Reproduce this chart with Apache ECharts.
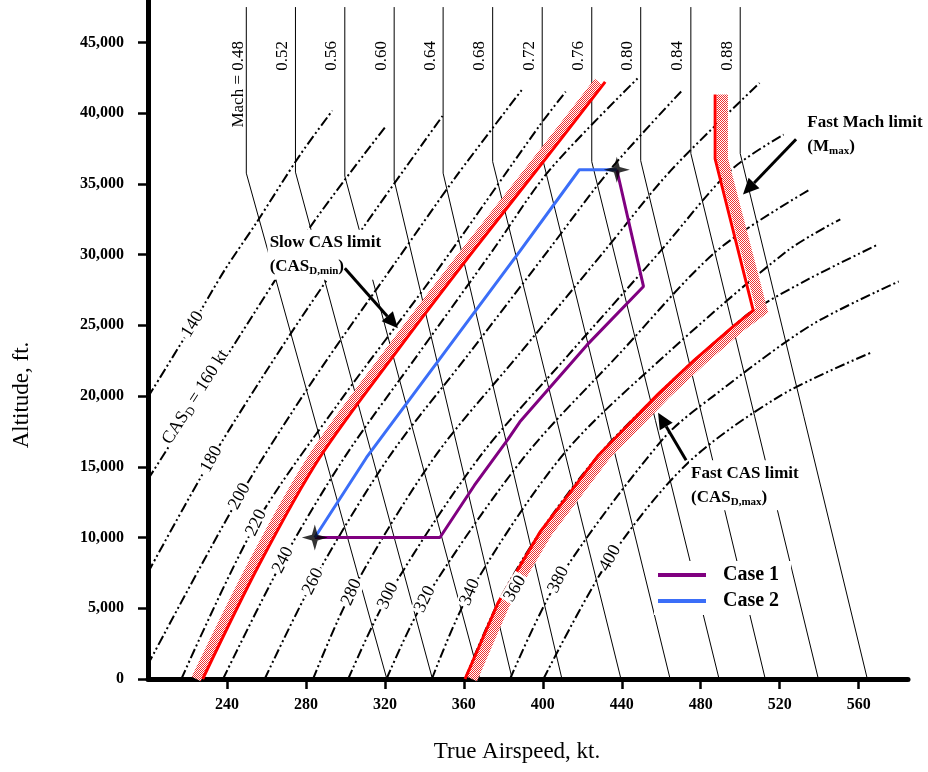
<!DOCTYPE html>
<html><head><meta charset="utf-8">
<script src="https://cdn.jsdelivr.net/npm/echarts@6/dist/echarts.min.js"></script>
<style>html,body{margin:0;padding:0;background:#fff}#c{width:928px;height:772px}</style>
</head><body><div id="c"></div>
<script>
// ---------- data (kt, ft) ----------
const xTickValues = [240, 280, 320, 360, 400, 440, 480, 520, 560];
const yTickValues = [0, 5000, 10000, 15000, 20000, 25000, 30000, 35000, 40000, 45000];

const machNumbers   = ['Mach = 0.48','0.52','0.56','0.60','0.64','0.68','0.72','0.76','0.80','0.84','0.88'];
const machTopKt     = [249.8, 274.7, 299.7, 324.7, 349.5, 374.6, 399.7, 424.8, 449.6, 475.0, 500.0];
const machBendAlt   = [35760, 35830, 35560, 35260, 35760, 36570, 36890, 36570, 36640, 37150, 37150];
const machSeaLevelKt= [321.0, 344.1, 368.1, 384.5, 409.7, 439.6, 464.5, 489.3, 512.7, 539.6, 564.4];
const machTopAlt = 47500;

const casValues = [140, 160, 180, 200, 220, 240, 260, 280, 300, 320, 340, 360, 380, 400];
const cas140 = [[200,19930],[222.6,25070],[238.8,28900],[254.9,32250],[276.9,37020],[293.4,40180]];
const cas160 = [[200,14120],[240.4,22930],[282.4,32000],[320,38990]];
const cas180 = [[200,7530],[232.1,15550],[271.6,24270],[310.7,32250],[349.2,39800]];
const cas200 = [[199.8,980],[246.4,12910],[284,21200],[325.9,29560],[356,35510],[389.3,41630]];
const cas220 = [[216.9,0],[254.9,11040],[297.1,19610],[344.3,28450],[398.6,39170],[411.6,41520]];
const cas240 = [[238,0],[268.4,8410],[299.5,15660],[336.7,22930],[374.4,30250],[403.2,35940],[448.4,42510]];
const cas260 = [[259.1,0],[283.6,6890],[321.9,15660],[362.2,22930],[402.5,30250],[433.7,35940],[470.4,41580]];
const cas280 = [[283.6,0],[303.1,6140],[345,15660],[387.8,22930],[431.2,30250],[464.8,35940],[509.8,42130]];
const cas300 = [[301.4,0],[321.6,5890],[367.8,15660],[413.1,22930],[459.6,30250],[495,35940],[522,38490]];
const cas320 = [[320.8,0],[340.3,5640],[390.4,15660],[438.4,22930],[488,30250],[534.6,34550]];
const cas340 = [[343.8,0],[363.1,6140],[410.4,15880],[462.4,22930],[523.7,30250],[550.7,32500]];
const cas360 = [[360.6,0],[377.3,5380],[398.6,10380],[428,15790],[457.9,20070],[476.2,22470],[496.5,24930],[506.6,26060],[535,28300],[569.3,30680]];
const cas380 = [[383.4,0],[407.9,7020],[460.9,16970],[486.4,20000],[535.8,25000],[580.3,28100]];
const cas400 = [[400.3,0],[434.1,8540],[473.1,15220],[520,20000],[565.9,23050]];
const casLines = [cas140,cas160,cas180,cas200,cas220,cas240,cas260,cas280,cas300,cas320,cas340,cas360,cas380,cas400];
const casLabelPos = [[222.6,25070],[224.1,19930],[232.1,15550],[246.4,12910],[254.9,11040],[268.4,8410],[283.6,6890],[303.1,6140],[321.6,5890],[340.3,5640],[363.1,6140],[386.0,6390],[407.9,7020],[434.1,8540]];

const slowLimit = [[227.7,0],[256.6,8160],[287,15660],[326.6,23270],[364.7,30250],[398.6,36270],[431.6,42210]];
const slowHatch = [[224.4,0],[253.3,8160],[283.7,15660],[323.3,23270],[361.4,30250],[395.3,36270],[428.3,42210]];
const fastLimit = [[360.6,0],[377.3,5380],[398.6,10380],[428,15790],[457.9,20070],[476.2,22470],[496.5,24930],[506.6,26060],[487.3,36770],[487.3,41320]];
const fastHatch = [[364.1,0],[380.8,5380],[402.1,10380],[431.5,15790],[461.4,20070],[479.7,22470],[500,24930],[511,26060],[491,36770],[491,41320]];

const case1 = [[284.5,10000],[347.9,10000],[365.3,13680],[382.5,16970],[388.4,18180],[422.3,23600],[451,27750],[437.5,36000]];
const case2 = [[284.5,10000],[310.7,15660],[349.4,22930],[388.4,30250],[418.5,36000],[437.5,36000]];
const stars = [[284.5,10000],[437.5,36000]];

// annotation anchors (kt, ft)
const slowNotePos = [260.6,31750], slowArrow = [[299.7,29030],[326.6,24800]];
const machNotePos = [533.0,40280], machArrow = [[528.3,38160],[501.4,34250]];
const fastNotePos = [474.1,15460], fastArrow = [[472.6,15460],[458.4,18820]];

// ---------- chart ----------
const FONT = '"Liberation Serif", "Times New Roman", serif';
const chart = echarts.init(document.getElementById('c'));

// hatch texture
const hc = document.createElement('canvas'); hc.width = 4; hc.height = 4;
const hx = hc.getContext('2d'); hx.fillStyle = '#fff'; hx.fillRect(0,0,4,4);
hx.fillStyle = '#f03030';
[[0,0],[2,0],[1,1],[3,1],[0,2],[2,2],[1,3],[3,3]].forEach(([a,b])=>hx.fillRect(a,b,1,1));
const hatchColor = {image: hc, repeat: 'repeat'};

const series = [];
machTopKt.forEach((k,i)=>{
  series.push({type:'line', name:'M'+i, data:[[k,machTopAlt],[k,machBendAlt[i]],[machSeaLevelKt[i],0]],
    showSymbol:false, silent:true, z:2, lineStyle:{color:'#000', width:1}});
});
casLines.forEach((d,i)=>{
  series.push({type:'line', name:'CAS'+casValues[i], data:d, smooth:0.3, showSymbol:false, silent:true, z:2,
    lineStyle:{color:'#000', width:2, type:[10,3,2,3,2,3]}});
});
series.push({type:'line', name:'slowHatch', data:slowHatch, smooth:0.3, showSymbol:false, silent:true, z:3, lineStyle:{color:hatchColor, width:10, cap:'butt'}});
series.push({type:'line', name:'fastHatch', data:fastHatch, smooth:false, showSymbol:false, silent:true, z:3, lineStyle:{color:hatchColor, width:11, cap:'butt', join:'miter'}});
series.push({type:'line', name:'slow', data:slowLimit, smooth:0.3, showSymbol:false, silent:true, z:4, lineStyle:{color:'#ff0000', width:3}});
series.push({type:'line', name:'fast', data:fastLimit, smooth:false, showSymbol:false, silent:true, z:4, lineStyle:{color:'#ff0000', width:3, join:'miter'}});
series.push({type:'line', name:'Case 1', data:case1, smooth:false, showSymbol:false, z:5, color:'#800080', lineStyle:{color:'#800080', width:3}});
series.push({type:'line', name:'Case 2', data:case2, smooth:false, showSymbol:false, z:5, color:'#3b6ef8', lineStyle:{color:'#3b6ef8', width:3}});
series.push({type:'scatter', name:'stars', data:stars, z:6, symbol:'path://M0,-10 L2.2,-2.2 L10,0 L2.2,2.2 L0,10 L-2.2,2.2 L-10,0 L-2.2,-2.2 Z', symbolSize:26, itemStyle:{color:'#000'}});

chart.setOption({
  animation:false,
  backgroundColor:'#fff',
  grid:{left:148, right:20, top:0, bottom:93},
  xAxis:{type:'value', min:200, max:585, interval:40,
    axisLine:{lineStyle:{color:'#000', width:5}},
    axisTick:{show:true, length:10, lineStyle:{color:'#000', width:2.5}, customValues:xTickValues},
    axisLabel:{customValues:xTickValues, margin:18, color:'#000', fontFamily:FONT, fontWeight:'bold', fontSize:16},
    splitLine:{show:false}},
  yAxis:{type:'value', min:0, max:48000, interval:5000,
    axisLine:{lineStyle:{color:'#000', width:5}},
    axisTick:{show:true, length:10, lineStyle:{color:'#000', width:2.5}, customValues:yTickValues},
    axisLabel:{customValues:yTickValues, margin:24, color:'#000', fontFamily:FONT, fontWeight:'bold', fontSize:16,
      formatter:v=>v.toLocaleString('en-US')},
    splitLine:{show:false}},
  legend:{data:['Case 1','Case 2'], orient:'vertical', left:654, top:561, itemWidth:48, itemHeight:4, itemGap:6,
    icon:'rect', selectedMode:false, backgroundColor:'#fff', padding:[4,12,4,4],
    textStyle:{fontFamily:FONT, fontWeight:'bold', fontSize:20, color:'#000', padding:[0,0,0,12]}},
  series:series
});

function P(pt){ return chart.convertToPixel({gridIndex:0}, pt); }
function angleAt(data, alt){
  let j = data.length-2;
  for (let k=0;k<data.length-1;k++){ if (alt>=data[k][1] && alt<=data[k+1][1]) { j=k; break; } }
  const a=P(data[j]), b=P(data[j+1]);
  return Math.atan2(a[1]-b[1], b[0]-a[0]);
}
function arrow(from, to, w){
  const a=P(from), b=P(to);
  const dx=b[0]-a[0], dy=b[1]-a[1], L=Math.hypot(dx,dy), ux=dx/L, uy=dy/L;
  const hl=16, hw=7.5;
  const bx=b[0]-ux*hl, by=b[1]-uy*hl;
  return [
    {type:'line', z:120, shape:{x1:a[0],y1:a[1],x2:bx,y2:by}, style:{stroke:'#000', lineWidth:w}},
    {type:'polygon', z:120, shape:{points:[[b[0],b[1]],[bx-uy*hw,by+ux*hw],[bx+uy*hw,by-ux*hw]]}, style:{fill:'#000'}}
  ];
}
const g = [];
const labelRich = {n:{fontFamily:FONT, fontSize:18, color:'#000'}, s:{fontFamily:FONT, fontSize:12, color:'#000', padding:[8,0,0,0]}};
casValues.forEach((c,i)=>{
  const p = P(casLabelPos[i]);
  const txt = c===160 ? '{n|CAS}{s|D}{n| = 160 kt}' : '{n|'+c+'}';
  g.push({type:'text', x:p[0], y:p[1], rotation:angleAt(casLines[i], casLabelPos[i][1]), z:100,
    style:{text:txt, rich:labelRich, align:'center', verticalAlign:'middle', backgroundColor:'#fff', padding:[0,2]}});
});
machNumbers.forEach((m,i)=>{
  const p = P([machTopKt[i],45100]);
  g.push({type:'text', x:p[0]-(i===0?8:13), y:p[1], rotation:Math.PI/2, z:100,
    style:{text:m, font:'17px '+FONT, fill:'#000', align:'right', verticalAlign:'middle'}});
});
const noteRich = {b:{fontFamily:FONT, fontWeight:'bold', fontSize:17, color:'#000', lineHeight:24},
                  s:{fontFamily:FONT, fontWeight:'bold', fontSize:11, color:'#000', padding:[9,0,0,0]}};
function note(pos, text){
  const p=P(pos);
  return {type:'text', x:p[0], y:p[1], z:110, style:{text:text, rich:noteRich, align:'left', verticalAlign:'top', backgroundColor:'#fff', padding:[1,2]}};
}
g.push(note(slowNotePos, '{b|Slow CAS limit}\n{b|(CAS}{s|D,min}{b|)}'));
g.push(note(machNotePos, '{b|Fast Mach limit}\n{b|(M}{s|max}{b|)}'));
g.push(note(fastNotePos, '{b|Fast CAS limit}\n{b|(CAS}{s|D,max}{b|)}'));
g.push(...arrow(slowArrow[0], slowArrow[1], 3));
g.push(...arrow(machArrow[0], machArrow[1], 3));
g.push(...arrow(fastArrow[0], fastArrow[1], 3));
g.push({type:'text', x:22, y:395, rotation:Math.PI/2, z:100, style:{text:'Altitude, ft.', font:'23px '+FONT, fill:'#000', align:'center', verticalAlign:'middle'}});
g.push({type:'text', x:517, y:752, z:100, style:{text:'True Airspeed, kt.', font:'23px '+FONT, fill:'#000', align:'center', verticalAlign:'middle'}});
chart.setOption({graphic:g});
</script></body></html>
